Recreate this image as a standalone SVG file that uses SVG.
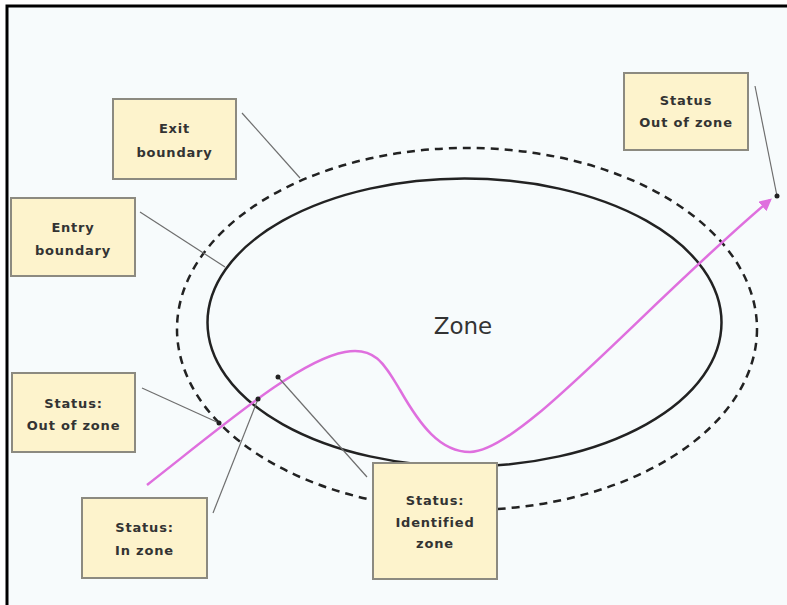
<svg xmlns="http://www.w3.org/2000/svg" width="787" height="605" viewBox="0 0 787 605">
<style>
.box{fill:#fdf3cc;stroke:#8c8a80;stroke-width:2}
.lbl{font-family:"DejaVu Sans",Verdana,sans-serif;font-size:13px;font-weight:bold;fill:#333;text-anchor:middle;letter-spacing:0.8px}
.lead{stroke:#6e6e6e;stroke-width:1.2;fill:none}
.dot{fill:#222}
</style>
<defs>
<marker id="arr" viewBox="0 0 10 10" refX="8" refY="5" markerWidth="5" markerHeight="5" orient="auto" markerUnits="strokeWidth">
<path d="M0,0 L10,5 L0,10 Z" fill="#df6fde"/>
</marker>
</defs>
<rect width="787" height="605" fill="#ffffff"/>
<rect x="7" y="6" width="790" height="610" fill="#f7fbfc"/>
<path d="M7,605 L7,6 L787,6" fill="none" stroke="#000" stroke-width="3"/>
<g id="zone">
<ellipse cx="467" cy="329" rx="290" ry="181" fill="none" stroke="#222" stroke-width="2.5" stroke-dasharray="8,6"/>
<ellipse cx="464.5" cy="322.5" rx="257" ry="144" fill="none" stroke="#222" stroke-width="2.5"/>
<text x="463" y="334" font-family="DejaVu Sans,Verdana,sans-serif" font-size="23" fill="#333" text-anchor="middle">Zone</text>
</g>
<g id="connectors">
<path d="M147,485 C230,420 300,360 345,352 C375,346 385,365 400,390 C420,425 440,452 470,452 C520,452 640,310 770,200" fill="none" stroke="#df6fde" stroke-width="2.5" marker-end="url(#arr)"/>
<line class="lead" x1="242" y1="113" x2="300" y2="178"/>
<line class="lead" x1="140" y1="212" x2="225" y2="267"/>
<line class="lead" x1="142" y1="388" x2="219" y2="423"/>
<line class="lead" x1="213" y1="513" x2="258" y2="399"/>
<line class="lead" x1="278" y1="377" x2="367" y2="477"/>
<line class="lead" x1="755" y1="86" x2="777" y2="196"/>
<circle class="dot" cx="219" cy="423" r="2.5"/>
<circle class="dot" cx="258" cy="399" r="2.5"/>
<circle class="dot" cx="278" cy="377" r="2.5"/>
<circle class="dot" cx="777" cy="196" r="2.5"/>
</g>
<g id="exit-boundary">
<rect class="box" x="113" y="99" width="123" height="80"/>
<text class="lbl" x="174.5" y="133">Exit</text>
<text class="lbl" x="174.5" y="157">boundary</text>
</g>
<g id="entry-boundary">
<rect class="box" x="11" y="198" width="124" height="78"/>
<text class="lbl" x="73" y="232">Entry</text>
<text class="lbl" x="73" y="255">boundary</text>
</g>
<g id="status-out-left">
<rect class="box" x="12" y="373" width="123" height="79"/>
<text class="lbl" x="73.5" y="408">Status:</text>
<text class="lbl" x="73.5" y="430">Out of zone</text>
</g>
<g id="status-in">
<rect class="box" x="82" y="498" width="125" height="80"/>
<text class="lbl" x="144.5" y="532">Status:</text>
<text class="lbl" x="144.5" y="555">In zone</text>
</g>
<g id="status-identified">
<rect class="box" x="373" y="463" width="124" height="116"/>
<text class="lbl" x="435" y="505">Status:</text>
<text class="lbl" x="435" y="527">Identified</text>
<text class="lbl" x="435" y="548">zone</text>
</g>
<g id="status-out-right">
<rect class="box" x="624" y="73" width="124" height="77"/>
<text class="lbl" x="686" y="105">Status</text>
<text class="lbl" x="686" y="127">Out of zone</text>
</g>
</svg>
